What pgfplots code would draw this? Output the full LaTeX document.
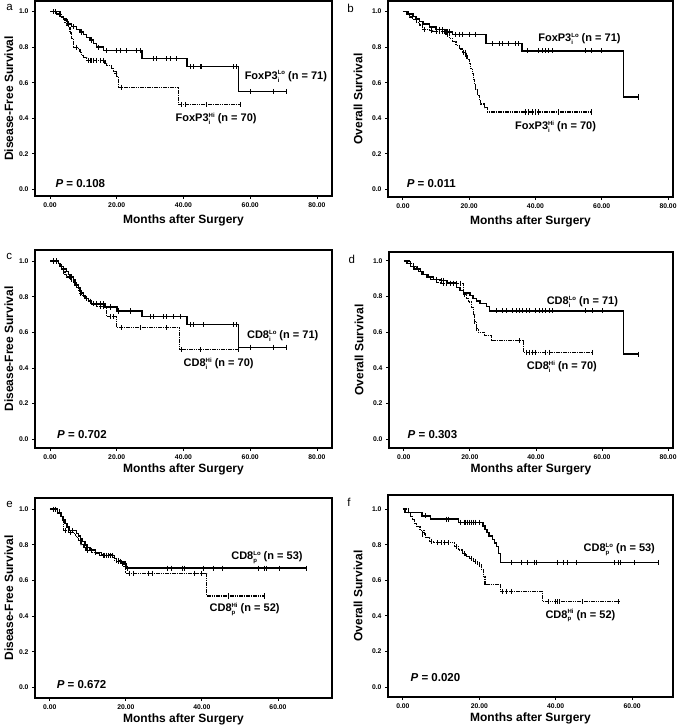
\documentclass[border=0pt]{standalone}
\usepackage{fontspec}
\setmainfont{Liberation Sans}
\usepackage{pgfplots}
\pgfplotsset{compat=1.18}

\newcommand{\supsub}[2]{\rlap{\raisebox{-2.8pt}{\fontsize{6}{6}\selectfont #1}}\raisebox{4.3pt}{\fontsize{6}{6}\selectfont #2}}
\newcommand{\lbl}{\bfseries\fontsize{11}{13}\selectfont}
\newcommand{\pv}{\bfseries\fontsize{11.5}{13}\selectfont}

\pgfplotsset{
  km/.style={
    scale only axis, anchor=north west, clip=false,
    axis line style={line width=1.4pt},
    xtick={0,20,40,60,80}, ytick={0,0.2,0.4,0.6,0.8,1},
    xtick pos=lower, ytick pos=left,
    tick align=outside, major tick length=3pt,
    every tick/.style={black, line width=0.9pt},
    xticklabel style={font=\bfseries\fontsize{6.8}{7}\selectfont,
      /pgf/number format/.cd, fixed, fixed zerofill, precision=2, assume math mode=true},
    yticklabel style={font=\bfseries\fontsize{6.8}{7}\selectfont,
      /pgf/number format/.cd, fixed, fixed zerofill, precision=1, assume math mode=true},
    xlabel={Months after Surgery},
    label style={font=\bfseries\fontsize{12}{14}\selectfont},
    xlabel style={yshift=2pt},
  },
  lo/.style={black, line width=1.5pt, const plot, mark=none},
  hi/.style={black, line width=1.2pt, const plot, mark=none, dash pattern=on 1.6pt off 0.7pt},
  cen/.style={black, only marks, mark=|, mark size=2.6pt, mark options={line width=1pt, solid}},
}

\begin{document}
\begin{tikzpicture}
\useasboundingbox (0pt,0pt) rectangle (685pt,-727pt);

% ---------- a ----------
\begin{axis}[km, at={(35pt,-1pt)}, width=297pt, height=195pt,
  xmin=-4.5, xmax=84.5, ymin=-0.038, ymax=1.06, xlabel style={yshift=-3pt},
  ylabel={Disease-Free Survival}, ylabel style={at={(axis description cs:-0.088,0.5)}, anchor=center}]
\addplot[lo] coordinates {(0,1) (2,0.986) (3,0.972) (4,0.958) (5,0.944) (5.5,0.93) (6.5,0.915) (8,0.9) (9,0.885) (10,0.87) (11,0.855) (12,0.84) (13,0.82) (14,0.80) (16,0.78) (27.5,0.735) (41,0.69) (56.5,0.55) (71,0.55)};
\addplot[cen] coordinates {(1,1) (1.6,1) (5.2,0.944) (7,0.915) (9.5,0.885) (12.5,0.84) (14.5,0.80) (17,0.78) (20,0.78) (21,0.78) (23,0.78) (26,0.78) (27,0.78) (31,0.735) (32,0.735) (35,0.735) (36,0.735) (38,0.735) (42,0.69) (43,0.69) (45,0.69) (45.5,0.69) (55,0.69) (56,0.69) (60,0.55) (67,0.55) (71,0.55)};
\addplot[hi] coordinates {(0,1) (3,0.985) (3.5,0.97) (4,0.955) (4.5,0.94) (5,0.925) (5.5,0.91) (6,0.88) (6.5,0.85) (7,0.80) (8.5,0.785) (9,0.77) (9.5,0.755) (10,0.74) (11,0.725) (16.5,0.71) (17,0.695) (18.5,0.68) (19,0.665) (19.5,0.65) (20,0.635) (20.5,0.575) (38.5,0.478) (57,0.478)};
\addplot[cen] coordinates {(8,0.80) (11.5,0.725) (12,0.725) (12.5,0.725) (13,0.725) (14,0.725) (15,0.725) (16,0.725) (19.8,0.65) (21.5,0.575) (39.5,0.478) (40.5,0.478) (47,0.478) (57,0.478)};
\node[anchor=west, font=\lbl] at (axis cs:57.3,0.635) {FoxP3\supsub{i}{Lo} (n = 71)};
\node[anchor=west, font=\lbl] at (axis cs:36.6,0.396) {FoxP3\supsub{i}{Hi} (n = 70)};
\node[anchor=west, font=\pv] at (axis cs:0.6,0.034) {\textit{P} = 0.108};
\node[anchor=north west, font=\fontsize{11.5}{11.5}\selectfont] at (rel axis cs:-0.108,1.0) {a};
\end{axis}

% ---------- b ----------
\begin{axis}[km, at={(388pt,-1pt)}, width=285pt, height=196pt,
  xmin=-4.5, xmax=81.5, ymin=-0.043, ymax=1.06, xlabel style={yshift=-3pt},
  ylabel={Overall Survival}, ylabel style={at={(axis description cs:-0.105,0.5)}, anchor=center}]
\addplot[lo] coordinates {(0,1) (1.5,0.986) (3,0.972) (4,0.958) (5,0.944) (6,0.93) (8,0.915) (10,0.90) (13,0.886) (15,0.872) (25,0.82) (36,0.78) (66.5,0.52) (71,0.52)};
\addplot[cen] coordinates {(11,0.90) (12,0.90) (13.5,0.886) (14,0.886) (16,0.872) (17,0.872) (18,0.872) (20,0.872) (22,0.872) (27,0.82) (29,0.82) (30,0.82) (32,0.82) (34,0.82) (35,0.82) (37.5,0.78) (41,0.78) (42,0.78) (43,0.78) (44,0.78) (45,0.78) (55,0.78) (57,0.78) (60,0.78) (71,0.52)};
\addplot[hi] coordinates {(0,1) (1,0.985) (2,0.97) (3,0.955) (4,0.94) (5,0.925) (6,0.90) (8,0.895) (9,0.89) (13,0.87) (14,0.85) (15,0.83) (16,0.81) (17,0.79) (18,0.77) (19,0.75) (19.5,0.73) (20,0.71) (20.5,0.68) (21,0.65) (21.3,0.62) (21.6,0.59) (22,0.56) (22.5,0.53) (23,0.50) (23.5,0.48) (24.5,0.46) (25.5,0.435) (57,0.435)};
\addplot[cen] coordinates {(6.5,0.90) (8.5,0.895) (10,0.89) (11,0.89) (12,0.89) (12.5,0.89) (13.5,0.87) (18.3,0.77) (18.8,0.77) (19.2,0.75) (37,0.435) (38,0.435) (39,0.435) (40,0.435) (41,0.435) (47,0.435) (57,0.435)};
\node[anchor=west, font=\lbl] at (axis cs:39.8,0.846) {FoxP3\supsub{i}{Lo} (n = 71)};
\node[anchor=west, font=\lbl] at (axis cs:32.8,0.353) {FoxP3\supsub{i}{Hi} (n = 70)};
\node[anchor=west, font=\pv] at (axis cs:0.1,0.034) {\textit{P} = 0.011};
\node[anchor=north west, font=\fontsize{11.5}{11.5}\selectfont] at (rel axis cs:-0.155,1.0) {b};
\end{axis}

% ---------- c ----------
\begin{axis}[km, at={(35pt,-250pt)}, width=297pt, height=198pt,
  xmin=-4.5, xmax=84.5, ymin=-0.049, ymax=1.062,
  ylabel={Disease-Free Survival}, ylabel style={at={(axis description cs:-0.088,0.5)}, anchor=center}]
\addplot[lo] coordinates {(0,1) (2.5,0.985) (3,0.97) (4,0.955) (5,0.94) (5.5,0.925) (6,0.91) (7,0.895) (7.5,0.88) (8,0.865) (8.5,0.85) (9,0.835) (9.5,0.82) (10,0.805) (10.5,0.79) (11.5,0.775) (12.5,0.76) (16.5,0.742) (20,0.72) (27.5,0.688) (41,0.643) (56.5,0.516) (71,0.516)};
\addplot[cen] coordinates {(1,1) (1.8,1) (3.5,0.97) (6.5,0.91) (8,0.865) (11,0.79) (12,0.775) (13,0.76) (14,0.76) (15,0.76) (16,0.76) (18,0.742) (20.5,0.72) (24,0.72) (30,0.688) (31,0.688) (34,0.688) (35,0.688) (37,0.688) (39,0.688) (42,0.643) (43,0.643) (46,0.643) (55,0.643) (56,0.643) (60,0.516) (67,0.516) (71,0.516)};
\addplot[hi] coordinates {(0,1) (2.5,0.985) (3,0.97) (3.5,0.955) (4,0.94) (4.5,0.925) (5,0.91) (6,0.895) (7,0.88) (7.5,0.865) (8,0.85) (8.5,0.835) (9,0.82) (9.5,0.805) (10.5,0.79) (11.5,0.775) (12.5,0.76) (14,0.745) (17,0.688) (20,0.626) (38.7,0.502) (56.5,0.502)};
\addplot[cen] coordinates {(4,0.94) (6.5,0.895) (9,0.82) (13,0.76) (15,0.745) (16,0.745) (18,0.688) (19,0.688) (21.5,0.626) (27,0.626) (35,0.626) (39.5,0.502) (45,0.502) (56.5,0.502)};
\node[anchor=west, font=\lbl] at (axis cs:58.0,0.581) {CD8\supsub{i}{Lo} (n = 71)};
\node[anchor=west, font=\lbl] at (axis cs:39.0,0.422) {CD8\supsub{i}{Hi} (n = 70)};
\node[anchor=west, font=\pv] at (axis cs:1.1,0.028) {\textit{P} = 0.702};
\node[anchor=north west, font=\fontsize{11.5}{11.5}\selectfont] at (rel axis cs:-0.108,1.0) {c};
\end{axis}

% ---------- d ----------
\begin{axis}[km, at={(389pt,-252pt)}, width=284pt, height=196pt,
  xmin=-4.5, xmax=81.5, ymin=-0.049, ymax=1.05,
  ylabel={Overall Survival}, ylabel style={at={(axis description cs:-0.105,0.5)}, anchor=center}]
\addplot[lo] coordinates {(0,1) (1,0.985) (2,0.97) (3,0.955) (4.5,0.94) (5.5,0.925) (7,0.91) (9,0.895) (11,0.89) (13,0.875) (16,0.85) (17,0.835) (18,0.82) (20,0.805) (21,0.79) (22,0.775) (23,0.76) (25,0.745) (26,0.72) (66.5,0.477) (71,0.477)};
\addplot[cen] coordinates {(10,0.895) (11.5,0.89) (12,0.89) (14,0.875) (15,0.875) (28,0.72) (30,0.72) (31,0.72) (33,0.72) (34,0.72) (35,0.72) (36,0.72) (37,0.72) (38,0.72) (40,0.72) (41,0.72) (42,0.72) (43,0.72) (44,0.72) (45,0.72) (55,0.72) (57,0.72) (60,0.72) (71,0.477)};
\addplot[hi] coordinates {(0,1) (2,0.985) (3,0.97) (4,0.955) (5,0.94) (6,0.925) (7.5,0.91) (8,0.895) (10,0.88) (11,0.875) (18,0.81) (19,0.79) (19.5,0.77) (20.5,0.74) (21,0.70) (21.5,0.66) (22,0.62) (22.5,0.60) (24.5,0.58) (26.5,0.553) (36.3,0.486) (57,0.486)};
\addplot[cen] coordinates {(12,0.875) (13,0.875) (14,0.875) (15,0.875) (16,0.875) (17,0.875) (18.5,0.81) (21.5,0.66) (22,0.62) (35,0.553) (37,0.486) (38,0.486) (39,0.486) (40,0.486) (43,0.486) (44,0.486) (57,0.486)};
\node[anchor=west, font=\lbl] at (axis cs:42.2,0.772) {CD8\supsub{i}{Lo} (n = 71)};
\node[anchor=west, font=\lbl] at (axis cs:36.2,0.407) {CD8\supsub{i}{Hi} (n = 70)};
\node[anchor=west, font=\pv] at (axis cs:0.1,0.028) {\textit{P} = 0.303};
\node[anchor=north west, font=\fontsize{11.5}{11.5}\selectfont] at (rel axis cs:-0.155,1.0) {d};
\end{axis}

% ---------- e ----------
\begin{axis}[km, at={(35pt,-498pt)}, width=297pt, height=200pt,
  xmin=-3.9, xmax=74.2, ymin=-0.06, ymax=1.063, xtick={0,20,40,60},
  ylabel={Disease-Free Survival}, ylabel style={at={(axis description cs:-0.088,0.5)}, anchor=center}]
\addplot[lo] coordinates {(0,1) (2,0.98) (3,0.96) (3.5,0.94) (4,0.92) (4.5,0.90) (5,0.88) (7,0.865) (7.5,0.85) (8,0.835) (8.5,0.82) (9.2,0.80) (9.8,0.785) (10.5,0.77) (12,0.755) (13,0.74) (17,0.722) (17.5,0.706) (19.5,0.695) (20,0.669) (67.5,0.669)};
\addplot[cen] coordinates {(1,1) (1.5,1) (6,0.88) (8,0.835) (11,0.77) (14,0.74) (14.5,0.74) (15,0.74) (15.5,0.74) (16,0.74) (16.5,0.74) (18,0.706) (18.5,0.706) (19.8,0.695) (20.5,0.669) (31,0.669) (32,0.669) (35,0.669) (35.3,0.669) (40.5,0.669) (43,0.669) (45.5,0.669) (55,0.669) (56.5,0.669) (57,0.669) (60.5,0.669) (67.5,0.669)};
\addplot[hi] coordinates {(0,1) (2.5,0.98) (3,0.96) (3.5,0.88) (5,0.87) (6.5,0.855) (7,0.84) (7.5,0.825) (8.2,0.80) (9,0.785) (9.5,0.77) (11,0.755) (13.5,0.745) (16.5,0.73) (17,0.712) (19,0.695) (19.5,0.68) (20,0.64) (41.3,0.513) (56.5,0.513)};
\addplot[cen] coordinates {(4,0.88) (5.5,0.87) (8,0.825) (10,0.77) (12,0.755) (17.5,0.712) (18,0.712) (19.2,0.695) (21,0.64) (22,0.64) (26,0.64) (27,0.64) (38,0.64) (40,0.64) (47,0.513) (56.5,0.513)};
\node[anchor=west, font=\lbl] at (axis cs:46.8,0.73) {CD8\supsub{p}{Lo} (n = 53)};
\node[anchor=west, font=\lbl] at (axis cs:41.1,0.438) {CD8\supsub{p}{Hi} (n = 52)};
\node[anchor=west, font=\pv] at (axis cs:0.9,0.013) {\textit{P} = 0.672};
\node[anchor=north west, font=\fontsize{11.5}{11.5}\selectfont] at (rel axis cs:-0.108,1.0) {e};
\end{axis}

% ---------- f ----------
\begin{axis}[km, at={(388pt,-495pt)}, width=285pt, height=202pt,
  xmin=-3.9, xmax=70.7, ymin=-0.056, ymax=1.079, xtick={0,20,40,60},
  ylabel={Overall Survival}, ylabel style={at={(axis description cs:-0.105,0.5)}, anchor=center}]
\addplot[lo] coordinates {(0,1) (0.5,0.98) (5,0.962) (7.2,0.943) (14.5,0.924) (21,0.905) (21.5,0.886) (22,0.867) (22.5,0.848) (23.5,0.829) (24,0.81) (24.5,0.79) (25,0.75) (25.5,0.70) (67,0.70)};
\addplot[cen] coordinates {(6,0.962) (11.5,0.943) (12,0.943) (15,0.924) (16,0.924) (16.5,0.924) (17,0.924) (17.5,0.924) (18,0.924) (18.5,0.924) (19,0.924) (20,0.924) (28.5,0.70) (31,0.70) (32.5,0.70) (34.5,0.70) (35,0.70) (40.5,0.70) (42,0.70) (43,0.70) (45.5,0.70) (55.5,0.70) (56.5,0.70) (57,0.70) (60.5,0.70) (67,0.70)};
\addplot[hi] coordinates {(0,1) (1.5,0.98) (2,0.96) (2.5,0.94) (3,0.92) (3.5,0.90) (4.5,0.88) (5.5,0.86) (6,0.84) (7,0.82) (8,0.81) (13.5,0.79) (14.5,0.77) (15.5,0.75) (16.5,0.735) (17.5,0.72) (18.5,0.705) (19.5,0.69) (20.5,0.66) (21,0.62) (21.5,0.575) (25.5,0.537) (36.5,0.48) (56.5,0.48)};
\addplot[cen] coordinates {(5,0.86) (7.5,0.82) (9,0.81) (10,0.81) (11,0.81) (12,0.81) (14,0.79) (16,0.75) (18,0.72) (19,0.705) (20,0.69) (26,0.537) (27,0.537) (28.5,0.537) (38,0.48) (40,0.48) (40.5,0.48) (41,0.48) (47,0.48) (56.5,0.48)};
\node[anchor=west, font=\lbl] at (axis cs:46.4,0.772) {CD8\supsub{p}{Lo} (n = 53)};
\node[anchor=west, font=\lbl] at (axis cs:36.4,0.40) {CD8\supsub{p}{Hi} (n = 52)};
\node[anchor=west, font=\pv] at (axis cs:1.1,0.056) {\textit{P} = 0.020};
\node[anchor=north west, font=\fontsize{11.5}{11.5}\selectfont] at (rel axis cs:-0.155,1.0) {f};
\end{axis}
\end{tikzpicture}
\end{document}
